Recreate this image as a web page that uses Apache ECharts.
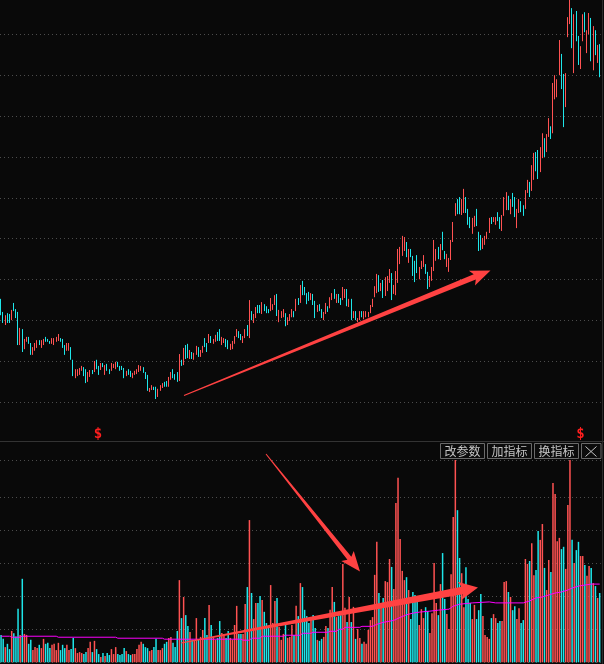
<!DOCTYPE html>
<html><head><meta charset="utf-8">
<script src="https://cdn.jsdelivr.net/npm/echarts/dist/echarts.min.js"></script>
<style>html,body{margin:0;padding:0;background:#090909;}#c{width:604px;height:664px;}</style>
</head><body><div id="c"></div>
<script>
// price highs / lows (grid line every 10 units), direction r = up (red), c = down (cyan)
const highs = [
25.3,22.1,21.3,21.8,21.6,22.6,24.3,22.8,22.1,18.2,
17.9,15.5,16.0,16.0,14.5,13.5,14.5,15.2,15.2,15.2,
15.5,16.0,15.5,15.0,15.7,15.7,16.0,16.7,15.7,15.5,
14.0,14.5,14.5,13.5,10.4,8.1,8.1,8.4,8.9,8.6,
8.1,7.4,7.9,7.9,10.1,10.4,8.9,9.6,9.6,9.1,
9.4,8.1,9.6,9.4,9.9,9.9,8.9,8.9,8.4,7.7,
8.1,7.7,7.2,7.7,8.1,9.1,8.9,8.6,7.4,6.7,
3.5,4.2,3.8,3.8,3.3,4.2,4.7,5.0,5.2,6.2,
7.4,8.1,6.9,7.4,11.8,10.4,13.3,14.0,14.3,12.8,
12.3,12.1,13.8,13.5,12.8,13.8,15.7,14.5,16.7,16.2,
15.5,16.5,17.2,17.9,16.0,15.7,15.5,15.2,14.3,15.0,
16.2,17.9,17.4,16.7,16.2,17.9,18.9,25.0,22.3,21.6,
23.3,23.8,23.8,24.5,24.0,23.5,22.8,25.5,24.0,26.2,
26.5,22.6,22.3,22.8,21.8,20.8,21.6,22.8,22.3,25.3,
25.5,28.7,29.7,28.2,26.7,27.0,26.7,26.5,24.8,23.8,
24.0,22.8,22.1,24.3,23.5,25.7,26.7,27.7,26.5,26.5,
25.5,28.2,27.7,27.7,25.3,25.3,22.3,22.3,20.6,22.3,
22.3,22.3,22.3,22.1,23.8,25.3,28.4,31.4,31.1,29.2,
29.9,30.6,30.9,32.6,31.6,28.7,32.1,37.5,38.0,40.7,
40.4,39.2,37.5,37.5,35.8,34.6,36.0,33.1,34.6,36.0,
33.8,31.9,30.9,33.1,39.7,37.5,38.0,38.7,41.7,37.0,
36.3,35.3,39.7,44.1,48.7,49.7,50.2,49.7,52.2,50.2,
47.3,45.3,45.1,45.6,47.3,41.7,40.9,40.2,40.7,41.7,
45.1,45.3,45.3,45.3,46.5,45.3,45.8,50.2,51.4,50.5,
49.7,51.2,50.2,47.3,49.7,49.2,48.2,51.9,54.4,53.9,
58.0,61.0,61.2,61.7,62.4,65.8,64.6,65.6,69.5,67.5,
78.1,80.0,79.0,88.6,85.2,80.3,80.5,94.2,98.4,96.4,
94.9,95.7,89.6,87.1,94.9,95.4,91.0,95.2,94.0,92.0,
91.0,87.4,87.6];
const lows = [
21.3,19.4,18.9,19.4,19.4,20.1,22.3,20.6,14.0,14.0,
12.3,13.0,14.8,14.3,11.6,11.6,12.6,13.3,14.0,13.3,
14.0,14.8,14.8,14.3,14.3,14.0,14.8,15.0,14.8,13.3,
11.6,12.6,12.6,10.4,6.4,5.9,6.4,6.7,7.7,6.4,
4.7,5.0,6.2,6.9,7.4,8.1,6.7,7.9,8.6,6.7,
7.7,6.9,7.7,8.4,8.1,8.6,7.7,7.9,5.9,6.4,
6.7,6.2,5.9,6.7,6.9,7.4,7.7,7.2,5.7,2.8,
2.5,3.0,3.0,0.8,1.3,2.8,3.5,3.8,3.8,3.8,
5.5,5.9,5.5,5.0,5.2,8.9,9.1,10.6,10.8,10.6,
10.6,10.4,11.6,11.1,11.1,12.1,13.5,12.3,14.5,14.5,
14.3,14.8,15.0,15.0,14.0,14.5,13.5,13.0,12.8,13.0,
14.3,16.0,15.7,15.2,14.5,15.7,16.2,15.7,20.1,19.4,
20.6,21.8,21.8,21.6,22.3,21.8,21.8,22.3,22.6,23.8,
21.1,19.6,20.6,20.8,18.6,18.9,19.9,20.8,20.8,22.3,
23.8,24.3,26.2,26.2,24.0,24.8,25.0,23.8,20.6,22.1,
22.3,20.6,20.1,21.6,22.1,23.0,25.0,25.3,24.3,24.3,
23.8,25.0,25.5,23.5,23.3,20.1,20.6,20.1,19.6,20.1,
20.8,20.3,20.8,20.8,21.8,23.3,25.7,26.7,27.0,27.2,
25.5,26.0,27.2,29.2,25.0,26.5,26.2,29.2,33.8,35.8,
37.0,35.5,34.1,35.5,30.9,29.4,31.6,30.1,32.6,33.1,
31.4,27.7,28.2,29.7,32.1,34.6,35.0,34.8,37.2,35.0,
33.1,31.9,34.8,39.2,45.6,46.0,46.0,45.8,46.3,46.3,
43.4,42.6,41.2,42.9,43.1,37.0,37.2,37.5,38.5,39.9,
41.4,43.6,44.1,43.4,44.3,42.4,41.9,45.6,47.0,47.0,
46.0,47.8,45.3,42.6,46.3,46.5,45.6,47.3,51.2,50.2,
51.7,54.4,56.5,54.6,56.3,59.7,60.0,61.2,64.9,64.4,
65.8,74.1,74.6,80.0,76.6,67.3,72.2,89.3,92.5,86.6,
80.5,88.3,82.5,81.5,88.3,90.5,85.4,90.0,83.4,81.2,
84.9,83.0,79.5];
const dirs =
"ccrccrcccr"+"crrccrrrcr"+"rcccrrrrcc"+"crrccrrrrc"+"crrcrccrcr"+
"ccrrrccccr"+"ccrrrrrccc"+"rrccrrrccr"+"rcccrcrccr"+"crrcrrccrc"+
"rrccrrccrr"+"rrccrrcrcr"+"rccrcccrrr"+"crrrcrrrcr"+"crccccrccr"+
"ccrrcrrcrc"+"crrcrcrcrr"+"crrrrrrrcr"+"crrrcrrrrr"+"rcrccccrrr"+
"ccrrrrcrcc"+"rrrrrccrrc"+"ccrrcccrrr"+"rcrrccrrrc"+"rccrrccrrc"+
"rrccrrcrrc"+"rrrrccrrrc"+"rccrrcrrcr"+"crc";
// volume (grid line every 1 unit)
const volumes = [
0.83,0.71,0.46,0.56,0.40,0.95,0.88,0.78,1.62,0.83,
2.53,0.86,0.83,0.56,0.68,0.37,0.46,0.43,0.53,0.43,
0.71,0.56,0.59,0.43,0.53,0.56,0.37,0.59,0.37,0.53,
0.43,0.53,0.37,0.40,0.74,0.43,0.28,0.31,0.28,0.25,
0.31,0.43,0.62,0.31,0.65,0.40,0.25,0.16,0.28,0.19,
0.28,0.22,0.40,0.25,0.46,0.25,0.22,0.25,0.43,0.34,
0.25,0.22,0.25,0.25,0.40,0.53,0.62,0.56,0.46,0.43,
0.34,0.37,0.46,0.71,0.37,0.37,0.43,0.56,0.62,0.74,
0.77,0.59,0.46,0.95,2.49,1.34,1.98,1.43,1.10,0.92,
0.68,0.68,1.34,0.68,0.77,0.98,1.34,0.83,1.74,1.13,
0.77,0.68,0.74,1.25,0.89,0.86,0.74,0.95,0.74,0.68,
1.13,1.71,0.86,0.86,0.86,1.77,2.28,4.31,2.10,1.31,
1.80,1.80,2.01,1.89,1.53,1.19,1.04,2.34,1.19,1.86,
1.95,1.07,0.68,0.86,1.16,0.74,0.77,1.13,0.83,1.71,
1.40,2.40,2.28,1.59,1.40,1.19,1.37,1.43,1.04,0.68,
0.65,0.71,0.77,1.10,1.04,1.59,2.28,1.83,1.37,1.40,
1.43,2.98,1.65,1.22,1.98,1.22,1.68,0.71,1.01,0.74,
0.56,0.62,0.56,0.98,1.28,1.37,2.65,3.65,2.10,1.68,
1.95,2.46,2.43,3.13,2.89,2.22,4.83,5.59,3.74,2.77,
2.49,2.58,2.19,1.31,2.13,2.04,1.89,1.13,1.61,1.34,
1.67,1.55,0.89,1.49,3.01,1.80,1.43,2.37,3.31,1.92,
1.46,1.01,2.67,4.40,6.13,4.61,3.16,2.70,1.67,2.88,
1.92,1.80,1.31,1.74,1.31,1.58,2.07,1.40,0.83,0.77,
0.71,1.34,1.46,1.34,1.19,1.25,1.25,2.43,2.46,2.13,
1.98,1.58,1.70,1.31,1.64,1.19,1.28,3.13,2.98,3.07,
3.61,2.64,2.80,3.98,3.71,4.19,2.86,2.19,3.10,2.74,
5.43,5.10,3.67,3.77,3.43,3.50,2.83,4.77,6.13,3.71,
3.01,3.40,3.65,3.22,3.22,2.95,2.62,2.92,2.86,2.40,
2.31,1.95,2.10];
// volume moving-average line: bar index -> value
const maIdx = [0,4,5,9,10,26,27,54,55,76,77,113,114,117,118,122,123,133,134,141,142,146,147,154,155,158,159,161,162,169,170,175,176,177,180,185,188,191,194,197,202,206,211,213,216,222,230,233,246,249,252,255,258,261,264,267,269,272,275,278,282];
const maVal = [0.79,0.79,0.76,0.76,0.79,0.79,0.76,0.76,0.73,0.73,0.70,0.70,0.67,0.67,0.73,0.73,0.79,0.79,0.82,0.82,0.88,0.88,0.91,0.91,0.94,0.94,1.00,1.00,1.06,1.06,1.09,1.09,1.12,1.15,1.21,1.27,1.36,1.44,1.49,1.52,1.55,1.58,1.61,1.70,1.76,1.80,1.83,1.80,1.80,1.86,1.95,1.98,2.04,2.10,2.13,2.19,2.25,2.31,2.34,2.37,2.37];
const signalBars = [46, 273];
const buttonLabels = ['改参数','加指标','换指标'];

const UP = '#ff5252', DOWN = '#1ee6ea';
const N = highs.length;
const days = highs.map((_, i) => i + 1);
const candles = highs.map((h, i) => dirs[i] === 'r' ? [lows[i], h, lows[i], h] : [h, lows[i], lows[i], h]);
const volData = volumes.map((v, i) => ({ value: v, itemStyle: { color: dirs[i] === 'r' ? UP : DOWN } }));
const maData = maIdx.map((x, k) => [x, maVal[k]]);

const chart = echarts.init(document.getElementById('c'), null, { renderer: 'canvas' });

function arrowPoly(tail, tip, w0, w1, headLen, headHalf) {
  const dx = tip[0] - tail[0], dy = tip[1] - tail[1], L = Math.hypot(dx, dy);
  const ux = dx / L, uy = dy / L, nx = -uy, ny = ux;
  const bx = tip[0] - ux * headLen, by = tip[1] - uy * headLen;
  return [[tail[0] + nx * w0 / 2, tail[1] + ny * w0 / 2], [bx + nx * w1 / 2, by + ny * w1 / 2],
    [bx - ux * 3 + nx * headHalf, by - uy * 3 + ny * headHalf], tip,
    [bx - ux * 3 - nx * headHalf, by - uy * 3 - ny * headHalf], [bx - nx * w1 / 2, by - ny * w1 / 2],
    [tail[0] - nx * w0 / 2, tail[1] - ny * w0 / 2]];
}
const ARROW = '#ff4242';
const gridLeft = -0.76, gridRight = 3.25;
const bandW = (604 - gridLeft - gridRight) / N;
const graphics = [
  { type: 'line', shape: { x1: 0, y1: 441.5, x2: 604, y2: 441.5 }, style: { stroke: '#333', lineWidth: 1 } },
  { type: 'line', shape: { x1: 0, y1: 460.5, x2: 601, y2: 460.5 }, style: { stroke: '#4c4c4c', lineWidth: 1, lineDash: [1, 3] } },
  { type: 'line', shape: { x1: 602.5, y1: 0, x2: 602.5, y2: 664 }, style: { stroke: '#2c2c2c', lineWidth: 1 } }
];
signalBars.forEach(i => {
  graphics.push({ type: 'text', x: gridLeft + (i + 0.5) * bandW, y: 434, z: 50,
    style: { text: '$', fill: '#ff1e1e', font: 'bold 14px "DejaVu Sans Mono"', textAlign: 'center', textVerticalAlign: 'middle' } });
});
const btnX = [440.5, 487.5, 534.5];
buttonLabels.forEach((t, k) => {
  graphics.push({ type: 'rect', shape: { x: btnX[k], y: 443.5, width: 44, height: 15 }, z: 50,
    style: { fill: '#0c0c0c', stroke: '#6a6a6a', lineWidth: 1 } });
  graphics.push({ type: 'text', x: btnX[k] + 22, y: 451.5, z: 51,
    style: { text: t, fill: '#c4c4c4', font: '12px "Noto Sans CJK SC"', textAlign: 'center', textVerticalAlign: 'middle' } });
});
graphics.push({ type: 'rect', shape: { x: 581.5, y: 443.5, width: 19.5, height: 15 }, z: 50, style: { fill: '#0c0c0c', stroke: '#6a6a6a', lineWidth: 1 } });
graphics.push({ type: 'line', shape: { x1: 585.5, y1: 446.5, x2: 596.5, y2: 456.5 }, z: 51, style: { stroke: '#c4c4c4', lineWidth: 1 } });
graphics.push({ type: 'line', shape: { x1: 596.5, y1: 446.5, x2: 585.5, y2: 456.5 }, z: 51, style: { stroke: '#c4c4c4', lineWidth: 1 } });
[
  [[184, 395.5], [490.5, 270.5], 1, 5.5, 17, 8],
  [[266, 454], [360, 571.5], 1, 5, 17, 8],
  [[181, 643], [478, 587.5], 1, 7.5, 16, 9.5]
].forEach(a => graphics.push({ type: 'polygon', z: 100, shape: { points: arrowPoly(a[0], a[1], a[2], a[3], a[4], a[5]) }, style: { fill: ARROW } }));

const splitStyle = { show: true, lineStyle: { color: '#4c4c4c', width: 1, type: [1, 3] } };
const hidden = { axisLine: { show: false }, axisTick: { show: false }, axisLabel: { show: false } };
chart.setOption({
  backgroundColor: '#090909',
  animation: false,
  grid: [
    { left: gridLeft, right: gridRight, top: 34.3, bottom: 664 - 402.3 },
    { left: gridLeft, right: gridRight, top: 497.3, bottom: 1.7 }
  ],
  xAxis: [
    Object.assign({ type: 'category', gridIndex: 0, data: days, boundaryGap: true, splitLine: { show: false } }, hidden),
    Object.assign({ type: 'category', gridIndex: 1, data: days, boundaryGap: true, splitLine: { show: false } }, hidden),
    Object.assign({ type: 'value', gridIndex: 1, min: -0.5, max: N - 0.5, show: false, splitLine: { show: false } }, hidden)
  ],
  yAxis: [
    Object.assign({ type: 'value', gridIndex: 0, min: 0, max: 90, interval: 10, splitLine: splitStyle }, hidden),
    Object.assign({ type: 'value', gridIndex: 1, min: 0, max: 5, interval: 1, splitLine: splitStyle }, hidden)
  ],
  series: [
    { type: 'candlestick', xAxisIndex: 0, yAxisIndex: 0, data: candles, barWidth: 0.2, clip: false,
      itemStyle: { color: UP, color0: DOWN, borderColor: UP, borderColor0: DOWN, borderWidth: 1 } },
    { type: 'bar', xAxisIndex: 1, yAxisIndex: 1, data: volData, barWidth: 1.5, clip: false },
    { type: 'line', xAxisIndex: 2, yAxisIndex: 1, data: maData, symbol: 'none', z: 5,
      lineStyle: { color: '#ff00ff', width: 1 } }
  ],
  graphic: graphics
});
</script>
</body></html>
